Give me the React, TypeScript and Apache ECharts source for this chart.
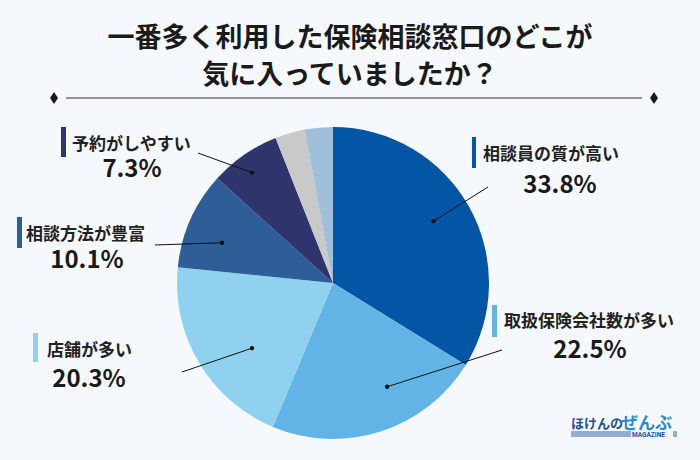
import React, { useEffect, useRef } from "react";
import * as echarts from "echarts";

const categories = [
  "相談員の質が高い",
  "取扱保険会社数が多い",
  "店舗が多い",
  "相談方法が豊富",
  "予約がしやすい",
  "その他",
  "無回答",
];
const values = [33.8, 22.5, 20.3, 10.1, 7.3, 3.1, 2.9];
const percentLabels = ["33.8%", "22.5%", "20.3%", "10.1%", "7.3%"];
const sliceColors = ["#0256a5", "#63b4e6", "#8fd1ee", "#2e5e98", "#2f346c", "#c9c9c9", "#a0bfd9"];
const titleLines = ["一番多く利用した保険相談窓口のどこが", "気に入っていましたか？"];

// layout (positions of annotation boxes)
const CX = 333;
const CY = 283;
const R = 156;
const labelLayout = [
  { bar: [472, 137, 4, 31], catX: 483, catY: 152, pctX: 560, pctY: 182, frac: 0.48, dotR: 118, end: [488, 187] },
  { bar: [492, 305, 5, 32], catX: 504, catY: 319, pctX: 590, pctY: 347, frac: 0.38, dotR: 117, end: [502, 350] },
  { bar: [33, 333, 5, 29], catX: 47, catY: 348, pctX: 89, pctY: 376, frac: 0.39, dotR: 104, end: [182, 372] },
  { bar: [17, 217, 5, 31], catX: 26, catY: 232, pctX: 87, pctY: 257, frac: 0.39, dotR: 118, end: [155, 245] },
  { bar: [61, 127, 5, 30], catX: 72, catY: 142, pctX: 132, pctY: 166, frac: 0.44, dotR: 137, end: [198, 153] },
];

const FONT = '"Noto Sans CJK JP", "Noto Sans", sans-serif';

export default function App() {
  const ref = useRef<HTMLDivElement>(null);
  useEffect(() => {
    if (!ref.current) return;
    const chart = echarts.init(ref.current, null, { renderer: "svg" });
    const total = values.reduce((a, b) => a + b, 0);
    let acc = 0;
    const angles = values.map((v) => {
      const s = (acc / total) * 360;
      acc += v;
      return [s, (acc / total) * 360];
    });

    const txt = (x: number, y: number, text: string, o: any) => ({
      type: "text",
      x,
      y,
      style: {
        text,
        fontFamily: FONT,
        textVerticalAlign: "middle",
        ...o,
      },
    });

    const graphics: any[] = [];
    titleLines.forEach((t, i) => {
      graphics.push(
        txt(350, 35 + i * 37, t, {
          fill: "#1a1a1a",
          fontSize: 27,
          lineHeight: 30,
          fontWeight: "bold",
          textAlign: "center",
        })
      );
    });
    graphics.push({
      type: "line",
      shape: { x1: 66, y1: 98, x2: 642, y2: 98 },
      style: { stroke: "#333", lineWidth: 1.2 },
    });
    [54, 654].forEach((x) => {
      graphics.push({
        type: "polygon",
        shape: { points: [[x, 92], [x + 4, 98], [x, 104], [x - 4, 98]] },
        style: { fill: "#1a1a1a" },
      });
    });

    labelLayout.forEach((L, i) => {
      const [s, e] = angles[i];
      const th = ((s + (e - s) * L.frac) * Math.PI) / 180;
      const dx = CX + L.dotR * Math.sin(th);
      const dy = CY - L.dotR * Math.cos(th);
      graphics.push({
        type: "line",
        shape: { x1: dx, y1: dy, x2: L.end[0], y2: L.end[1] },
        style: { stroke: "#111", lineWidth: 1 },
        z: 10,
      });
      graphics.push({
        type: "circle",
        shape: { cx: dx, cy: dy, r: 2.2 },
        style: { fill: "#111" },
        z: 11,
      });
      graphics.push({
        type: "rect",
        shape: { x: L.bar[0], y: L.bar[1], width: L.bar[2], height: L.bar[3] },
        style: { fill: sliceColors[i] },
      });
      graphics.push(
        txt(L.catX, L.catY, categories[i], {
          fill: "#222",
          fontSize: 17,
          lineHeight: 17,
          fontWeight: "bold",
          textAlign: "left",
        })
      );
      graphics.push(
        txt(L.pctX, L.pctY, percentLabels[i], {
          fill: "#1a1a1a",
          fontSize: 24,
          lineHeight: 22,
          fontWeight: "bold",
          textAlign: "center",
        })
      );
    });

    // logo
    graphics.push(
      txt(571, 422, "ほけんの", {
        fill: "#1d4f9c",
        fontSize: 13,
        lineHeight: 13,
        fontWeight: "bold",
        textAlign: "left",
      })
    );
    graphics.push(
      txt(621, 421, "ぜんぶ", {
        fill: "#2a8ad6",
        fontSize: 17,
        lineHeight: 15,
        fontWeight: "bold",
        textAlign: "left",
      })
    );
    [432, 434, 436].forEach((y) => {
      graphics.push({
        type: "line",
        shape: { x1: 571, y1: y, x2: 631, y2: y },
        style: { stroke: "#1d4f9c", lineWidth: 0.9 },
      });
      graphics.push({
        type: "line",
        shape: { x1: 673, y1: y, x2: 677, y2: y },
        style: { stroke: "#1d4f9c", lineWidth: 0.9 },
      });
    });
    graphics.push(
      txt(632, 435, "MAGAZINE", {
        fill: "#1d4f9c",
        fontSize: 6.5,
        lineHeight: 6,
        fontWeight: "bold",
        fontFamily: "Roboto, sans-serif",
        textAlign: "left",
      })
    );

    chart.setOption({
      animation: false,
      backgroundColor: "#f5f9fd",
      series: [
        {
          type: "pie",
          center: [CX, CY],
          radius: [0, R],
          startAngle: 90,
          clockwise: true,
          silent: true,
          label: { show: false },
          labelLine: { show: false },
          itemStyle: { borderWidth: 0 },
          data: values.map((v, i) => ({
            name: categories[i],
            value: v,
            itemStyle: { color: sliceColors[i] },
          })),
        },
      ],
      graphic: { elements: graphics },
    });
    return () => chart.dispose();
  }, []);
  return (
    <div
      ref={ref}
      style={{ position: "fixed", left: 0, top: 0, width: 700, height: 460 }}
    />
  );
}
